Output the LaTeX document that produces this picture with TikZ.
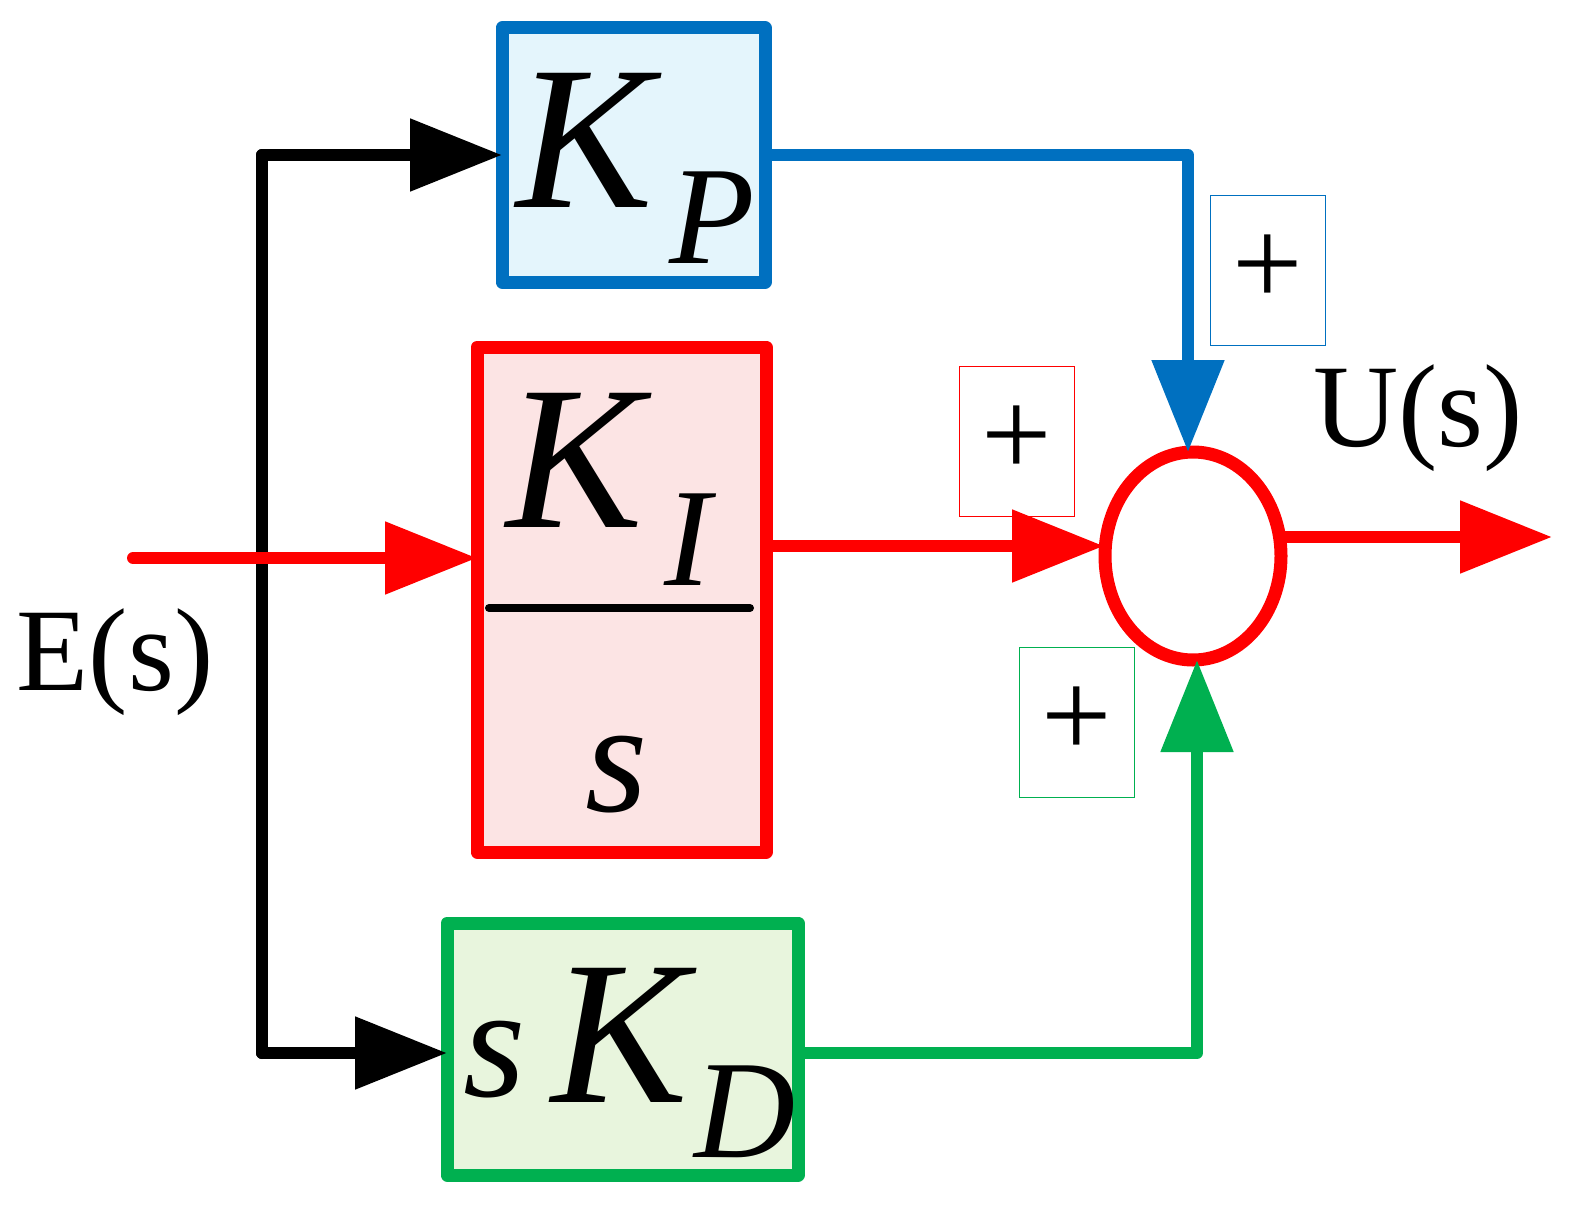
\documentclass[tikz,border=0pt]{standalone}
\usepackage{fontspec}
\setmainfont{Liberation Serif}
\usetikzlibrary{arrows.meta,shapes.geometric}
\definecolor{bl}{HTML}{0070C0}
\definecolor{rd}{HTML}{FF0000}
\definecolor{gr}{HTML}{00B050}
\tikzset{x=1pt,y=-1pt,
 wire/.style={line width=12pt,line cap=round,line join=round,-{Triangle[length=92pt,width=70pt]}},
 blk/.style={line width=13pt,line join=round},
 plusbox/.style={line width=0.8pt,minimum width=115pt,minimum height=150pt,inner sep=0pt,font=\fontsize{125}{125}\selectfont}}
\begin{document}
\begin{tikzpicture}
\useasboundingbox (0,0) rectangle (1594,1223);
% blocks
\draw[blk,bl,fill={rgb,255:red,228;green,245;blue,252}] (502,28) rectangle (765,282);
\coordinate (kpl) at (502,155); \coordinate (kpr) at (765,155);
\draw[blk,rd,fill={rgb,255:red,252;green,228;blue,228}] (477,347) rectangle (766,852);
\coordinate (kil) at (477,558); \coordinate (kir) at (766,546);
\draw[blk,gr,fill={rgb,255:red,232;green,245;blue,221}] (447,923) rectangle (798,1175);
\coordinate (kdl) at (447,1053); \coordinate (kdr) at (798,1053);
\draw[line width=8pt,line cap=round] (489,608) -- (750,608);
% texts
\node[font=\fontsize{205}{205}\selectfont\itshape] at (585,140) {K};
\node[font=\fontsize{140}{140}\selectfont\itshape] at (712,218) {P};
\node[font=\fontsize{205}{205}\selectfont\itshape] at (575,460) {K};
\node[font=\fontsize{140}{140}\selectfont\itshape] at (688,540) {I};
\node[font=\fontsize{160}{160}\selectfont\itshape] at (617,775) {s};
\node[font=\fontsize{160}{160}\selectfont\itshape] at (495,1060) {s};
\node[font=\fontsize{205}{205}\selectfont\itshape] at (620,1035) {K};
\node[font=\fontsize{140}{140}\selectfont\itshape] at (745,1112) {D};
\node[font=\fontsize{118}{118}\selectfont] (E) at (115,662) {E(s)};
\node[font=\fontsize{118}{118}\selectfont] (U) at (1418,418) {U(s)};
% summation
\node[draw=rd,line width=13pt,ellipse,minimum width=176pt,minimum height=208pt,inner sep=0pt] (sum) at (1193,556) {};
% bus
\coordinate (t) at (262,155); \coordinate (b) at (262,1053);
\draw[line width=12pt,line cap=round,line join=round] (b) -- (t);
\draw[wire] (t) -- (kpl);
\draw[wire] (b) -- (kdl);
\coordinate (ein) at (133,558);
\draw[wire,rd] (ein) -- (kil);
\coordinate (bc) at (1188,155);
\draw[wire,bl] (kpr) -- (bc) -- (1188,452);
\draw[wire,rd] (kir) -- (1104,546);
\coordinate (gc) at (1197,1053);
\draw[wire,gr] (kdr) -- (gc) -- (1197,660);
\coordinate (out) at (1552,537);
\draw[wire,rd] (1282,537) -- (out);
% plus boxes
\node[plusbox,draw=bl] at (1268,270) {+};
\node[plusbox,draw=rd] at (1017,441) {+};
\node[plusbox,draw=gr] at (1077,722) {+};
\end{tikzpicture}
\end{document}
